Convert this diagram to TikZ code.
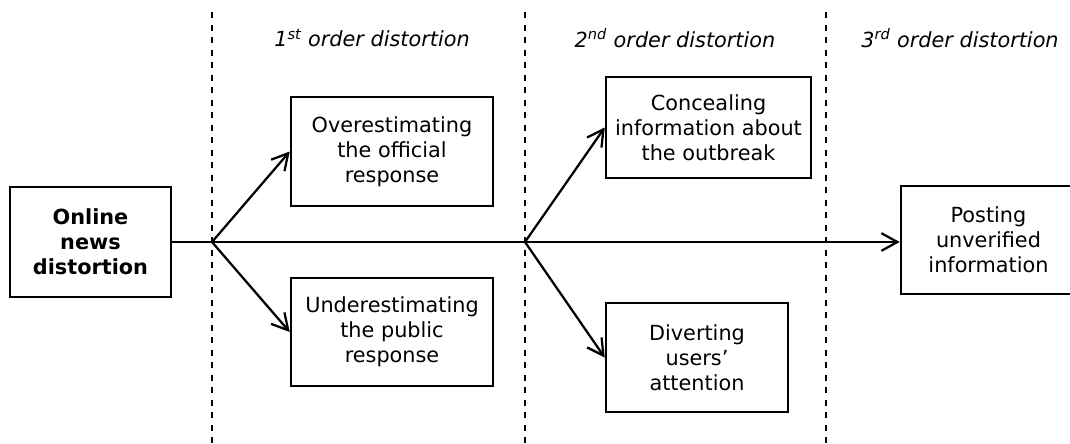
\documentclass[tikz,border=0pt]{standalone}
\usepackage{fontspec}
\setmainfont{DejaVu Sans}
\usetikzlibrary{arrows.meta}

\begin{document}
\begin{tikzpicture}[
    box/.style={draw, line width=1.8pt, inner sep=0pt, align=center, font=\fontsize{14.8}{17.8}\selectfont},
    phase/.style={font=\fontsize{14.8}{17.8}\selectfont\itshape},
    sep/.style={line width=1.9pt, dash pattern=on 4.3pt off 4.6pt},
    flow/.style={line width=1.6pt, -{Straight Barb[length=4mm, width=4.4mm]}}
]
    \useasboundingbox (0,-5.025) rectangle (26.75,6.05);

    % Phase separators
    \draw[sep] (5.3,5.75) -- (5.3,-5.025);
    \draw[sep] (13.125,5.75) -- (13.125,-5.025);
    \draw[sep] (20.65,5.75) -- (20.65,-5.025);

    % Phase titles
    \node[phase] (t1) at (9.3,5.1) {1\textsuperscript{st} order distortion};
    \node[phase] (t2) at (16.875,5.1) {2\textsuperscript{nd} order distortion};
    \node[phase] (t3) at (24.0,5.1) {3\textsuperscript{rd} order distortion};

    % Boxes
    \node[box, minimum width=4.025cm, minimum height=2.75cm, font=\fontsize{14.8}{17.8}\selectfont\bfseries] (online) at (2.2625,0) {Online\\news\\distortion};
    \node[box, minimum width=5.05cm, minimum height=2.725cm] (over) at (9.8,2.2625) {Overestimating\\the official\\response};
    \node[box, minimum width=5.05cm, minimum height=2.7cm] (under) at (9.8,-2.25) {Underestimating\\the public\\response};
    \node[box, minimum width=5.125cm, minimum height=2.525cm] (conceal) at (17.7125,2.8625) {Concealing\\information about\\the outbreak};
    \node[box, minimum width=4.55cm, minimum height=2.725cm] (divert) at (17.425,-2.8875) {Diverting\\users’\\attention};
    \node[box, minimum width=4.375cm, minimum height=2.7cm] (post) at (24.7125,0.05) {Posting\\unverified\\information};

    % Branch points
    \coordinate (b1) at (5.3,0);
    \coordinate (b2) at (13.125,0);

    % Arrows
    \draw[flow] (online.east) -- (post.west |- online.east);
    \draw[flow] (b1) -- (over.west);
    \draw[flow] (b1) -- (under.west);
    \draw[flow] (b2) -- (conceal.west);
    \draw[flow] (b2) -- (divert.west);
\end{tikzpicture}
\end{document}
